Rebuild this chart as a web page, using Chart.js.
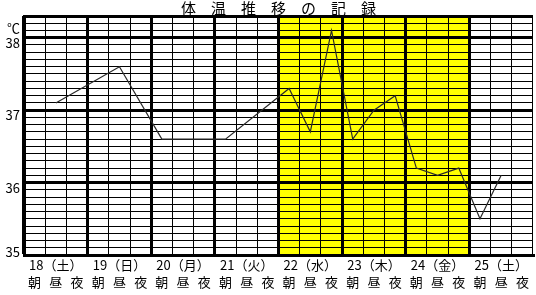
<!DOCTYPE html>
<html>
<head>
<meta charset="utf-8">
<script src="https://cdn.jsdelivr.net/npm/chart.js@4.4.1/dist/chart.umd.min.js"></script>
<style>
  body { margin: 0; background: #fff; }
  #wrap { width: 536px; height: 295px; }
</style>
</head>
<body>
<div id="wrap"><canvas id="tempChart"></canvas></div>
<script>
var days = ['18（土）', '19（日）', '20（月）', '21（火）', '22（水）', '23（木）', '24（金）', '25（土）'];
var times = ['朝', '昼', '夜'];
var shadedDays = ['22（水）', '23（木）', '24（金）'];

// 朝・昼・夜 の順、未測定は null
var temps = [
  null, 37.1, null,
  null, 37.6, null,
  36.6, null, null,
  36.6, null, null,
  37.3, 36.7, 38.1,
  36.6, 37.0, 37.2,
  36.2, 36.1, 36.2,
  35.5, 36.1, null
];

var yMin = 35;
var yMax = 38.3;
var yLabels = [35, 36, 37, 38];
var unitLabel = '℃';
var unitAt = 38.2;

var FONT = "'Noto Sans CJK JP', 'Noto Sans', sans-serif";

// x軸ラベル: 昼の列に日付、下段に朝昼夜
var labels = [];
days.forEach(function(d) {
    times.forEach(function(t, j) {
        labels.push([j === 1 ? d : '', t]);
    });
});

function tenths(v) { return Math.round(v * 10); }

var shadePlugin = {
    id: 'shade',
    beforeDraw: function(chart) {
        var x = chart.scales.x, area = chart.chartArea, ctx = chart.ctx;
        var w = x.getPixelForValue(1) - x.getPixelForValue(0);
        ctx.save();
        ctx.fillStyle = '#ffff00';
        shadedDays.forEach(function(d) {
            var i = days.indexOf(d) * 3;
            var left = x.getPixelForValue(i) - w / 2;
            ctx.fillRect(left, area.top, w * 3, area.bottom - area.top);
        });
        ctx.restore();
    }
};

var ctx = document.getElementById('tempChart').getContext('2d');
new Chart(ctx, {
    type: 'line',
    data: {
        labels: labels,
        datasets: [{
            data: temps,
            borderColor: '#2a2a2a',
            borderWidth: 1.2,
            pointRadius: 0,
            tension: 0,
            spanGaps: true,
            fill: false
        }]
    },
    options: {
        responsive: true,
        maintainAspectRatio: false,
        animation: false,
        layout: { padding: { left: 0, right: 3, top: 0, bottom: 0 } },
        plugins: {
            legend: { display: false },
            tooltip: { enabled: false },
            title: {
                display: true,
                fullSize: false,
                text: '体　温　推　移　の　記　録',
                color: '#000',
                font: { family: FONT, size: 15, weight: 'normal', lineHeight: 1 },
                padding: { top: 1, bottom: 0 }
            }
        },
        scales: {
            x: {
                offset: true,
                border: { display: true, color: '#000', width: 3 },
                grid: {
                    offset: true,
                    drawTicks: false,
                    color: '#000',
                    lineWidth: function(c) {
                        if (c.index === 0) return 3;
                        if (c.index === labels.length) return 1;
                        return c.index % 3 === 0 ? 3 : 1;
                    }
                },
                ticks: {
                    autoSkip: false,
                    maxRotation: 0,
                    padding: 2,
                    color: '#000',
                    font: { family: FONT, size: 13, lineHeight: 1.3 }
                },
                afterFit: function(scale) { scale.height = 40; }
            },
            y: {
                min: yMin,
                max: yMax,
                border: { display: true, color: '#000', width: 3 },
                grid: {
                    drawTicks: false,
                    color: '#000',
                    lineWidth: function(c) {
                        if (!c.tick) return 1;
                        var t = tenths(c.tick.value);
                        return (t % 10 === 0 || t === tenths(yMax)) ? 3 : 1;
                    }
                },
                ticks: {
                    stepSize: 0.1,
                    autoSkip: false,
                    padding: 4,
                    labelOffset: 5,
                    color: '#000',
                    font: { family: FONT, size: 13 },
                    callback: function(v) {
                        var t = tenths(v);
                        if (t === tenths(unitAt)) return unitLabel;
                        // 一番下の目盛りは線の上に表示
                        if (t === tenths(yMin)) return [String(yMin), ''];
                        for (var i = 0; i < yLabels.length; i++) {
                            if (tenths(yLabels[i]) === t) return String(yLabels[i]);
                        }
                        return '';
                    }
                },
                afterFit: function(scale) { scale.width = 24; }
            }
        }
    },
    plugins: [shadePlugin]
});
</script>
</body>
</html>
